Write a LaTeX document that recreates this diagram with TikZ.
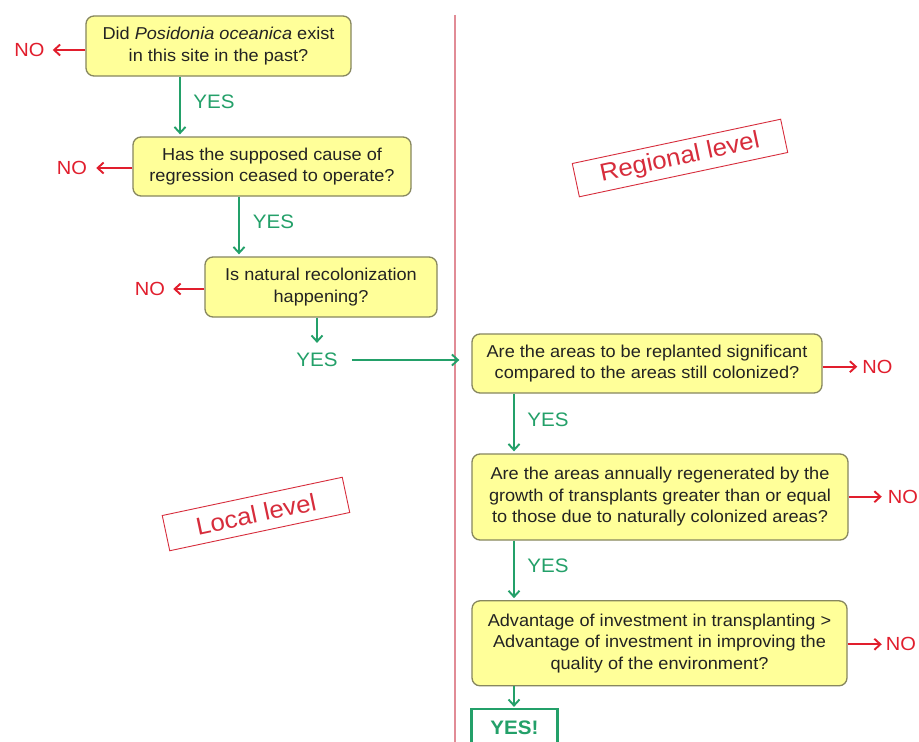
\documentclass[tikz,border=0pt]{standalone}
\usepackage{fontspec}
\setmainfont{Liberation Sans}[FakeStretch=1.055]
\usetikzlibrary{arrows.meta}
\definecolor{boxfill}{RGB}{255,255,153}
\definecolor{boxline}{RGB}{135,135,95}
\definecolor{yesgreen}{RGB}{35,160,105}
\definecolor{nored}{RGB}{225,30,45}
\definecolor{sepline}{RGB}{225,140,150}
\definecolor{lvlred}{RGB}{215,45,60}
\definecolor{boxtext}{RGB}{35,35,35}
\begin{document}
\begin{tikzpicture}[x=1bp,y=-1bp,
 qbox/.style={draw=boxline, line width=1.3bp, fill=boxfill, rounded corners=8bp, align=center, inner sep=0pt, font=\fontsize{17.2bp}{21.5bp}\selectfont, text=boxtext},
 yeslab/.style={text=yesgreen, font=\fontsize{19.5bp}{22bp}\selectfont, inner sep=0pt},
 nolab/.style={text=nored, font=\fontsize{19bp}{22bp}\selectfont, inner sep=0pt},
 ya/.style={draw=yesgreen, line width=1.9bp, -{Straight Barb[length=6bp,width=11bp]}},
 na/.style={draw=nored, line width=1.9bp, -{Straight Barb[length=6bp,width=11bp]}},
 lvl/.style={draw=lvlred, line width=0.9bp, text=lvlred, rotate=12, font=\fontsize{24.5bp}{28bp}\selectfont, inner sep=0pt},
 finbox/.style={draw=yesgreen, line width=2.2bp, fill=white, text=yesgreen, font=\fontsize{19.5bp}{22bp}\selectfont\bfseries, inner sep=0pt}
]
\useasboundingbox (0,0) rectangle (919,742);
\clip (0,0) rectangle (919,742);
\fill[white] (0,0) rectangle (919,742);

% separator
\draw[sepline, line width=1.3bp] (455,15) -- (455,742);

% level labels
\node[lvl, minimum width=213bp, minimum height=34bp] (reg) at (680,158) {Regional level};
\node[lvl, minimum width=184bp, minimum height=36bp] (loc) at (256,514) {Local level};

% question boxes
\node[qbox, minimum width=265bp, minimum height=60bp] (b1) at (218.5,46) {Did \textit{Posidonia oceanica} exist\\in this site in the past?};
\node[qbox, minimum width=278bp, minimum height=59bp] (b2) at (272,166.5) {Has the supposed cause of\\regression ceased to operate?};
\node[qbox, minimum width=232bp, minimum height=60bp] (b3) at (321,287) {Is natural recolonization\\happening?};
\node[qbox, minimum width=350bp, minimum height=59bp] (b4) at (647,363.5) {Are the areas to be replanted significant\\compared to the areas still colonized?};
\node[qbox, minimum width=376bp, minimum height=86bp] (b5) at (660,497) {Are the areas annually regenerated by the\\growth of transplants greater than or equal\\to those due to naturally colonized areas?};
\node[qbox, minimum width=375bp, minimum height=85bp] (b6) at (659.5,643.3) {Advantage of investment in transplanting >\\Advantage of investment in improving the\\quality of the environment?};
\node[finbox, minimum width=86bp, minimum height=38bp] (fin) at (514.5,728) {YES!};

% NO labels
\node[nolab] (n1) at (29.5,50) {NO};
\node[nolab] (n2) at (72,168) {NO};
\node[nolab] (n3) at (150,289) {NO};
\node[nolab] (n4) at (877.5,366.7) {NO};
\node[nolab] (n5) at (903,496.7) {NO};
\node[nolab] (n6) at (901,644.3) {NO};

\draw[na, shorten >=8bp] (b1.west |- n1) -- (n1.east);
\draw[na, shorten >=9bp] (b2.west |- n2) -- (n2.east);
\draw[na, shorten >=8bp] (b3.west |- n3) -- (n3.east);
\draw[na, shorten >=5bp] (b4.east |- n4) -- (n4.west);
\draw[na, shorten >=6bp] (b5.east |- n5) -- (n5.west);
\draw[na, shorten >=4bp] (b6.east |- n6) -- (n6.west);

% YES labels
\node[yeslab] (y1) at (214,102) {YES};
\node[yeslab] (y2) at (273.5,222) {YES};
\node[yeslab] (y3) at (317,360) {YES};
\node[yeslab] (y4) at (548,420) {YES};
\node[yeslab] (y5) at (548,566) {YES};

\coordinate (c1) at (180,0);
\coordinate (c2) at (239,0);
\coordinate (c4) at (514,0);

\draw[ya, shorten >=2bp] (b1.south -| c1) -- (b2.north -| c1);
\draw[ya, shorten >=2bp] (b2.south -| c2) -- (b3.north -| c2);
\draw[ya, shorten >=10bp] (b3.south -| y3) -- (y3.north);
\draw[ya, shorten <=14bp, shorten >=12bp] (y3.east) -- (b4.west |- y3);
\draw[ya, shorten >=2bp] (b4.south -| c4) -- (b5.north -| c4);
\draw[ya, shorten >=2bp] (b5.south -| c4) -- (b6.north -| c4);
\draw[ya, shorten >=1bp] (b6.south -| c4) -- (fin.north -| c4);
\end{tikzpicture}
\end{document}
